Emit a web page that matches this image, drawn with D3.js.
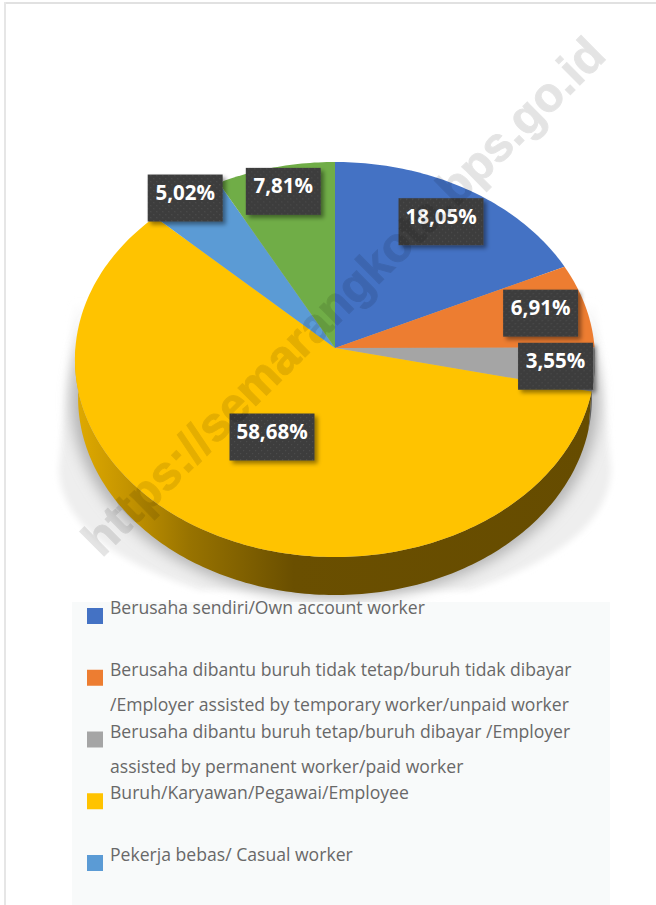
<!DOCTYPE html>
<html>
<head>
<meta charset="utf-8">
<script src="https://cdn.jsdelivr.net/npm/d3@7"></script>
<style>
  html, body { margin: 0; padding: 0; background: #fff; overflow: hidden; }
  svg { display: block; }
</style>
</head>
<body>
<div id="chart"></div>
<script>
const values = [18.05, 6.91, 3.55, 58.68, 5.02, 7.81];
const valueLabels = ["18,05%", "6,91%", "3,55%", "58,68%", "5,02%", "7,81%"];
const colors = ["#4472c4", "#ed7d31", "#a5a5a5", "#ffc300", "#5b9bd5", "#70ad47"];
const legendRows = [
  ["Berusaha sendiri/Own account worker"],
  ["Berusaha dibantu buruh tidak tetap/buruh tidak dibayar", "/Employer assisted by temporary worker/unpaid worker"],
  ["Berusaha dibantu buruh tetap/buruh dibayar /Employer", "assisted by permanent worker/paid worker"],
  ["Buruh/Karyawan/Pegawai/Employee"],
  ["Pekerja bebas/ Casual worker"]
];
// how far out each label sits along its slice's middle angle
const labelRadius = [0.79, 0.82, 0.85, 0.5, 1.0, 0.86];

const width = 656, height = 905;

// tilted disc: apex of the pie is not the middle of the ellipse
const cx = 335, cy = 348, radius = 259.6, tilt = -0.0582, squash = 176.6, depth = 38;

const project = (t, r) => {
  const u = r * Math.sin(t), v = -r * Math.cos(t);
  const w = 1 + tilt * v;
  return [cx + radius * u / w, (squash * v + cy) / w];
};
const lower = ([x, y]) => [cx + (x - cx) * 0.988, y + depth];

const rad = d3.scaleLinear().domain([0, 180]).range([0, Math.PI]);
const sample = (a0, a1) => {
  const n = Math.max(2, Math.ceil((a1 - a0) / rad(1)));
  return d3.range(n + 1).map(i => a0 + (a1 - a0) * i / n);
};

const slices = d3.pie().sort(null).value(d => d)(values);
const line = d3.line();

const svg = d3.select("#chart")
  .append("svg")
    .attr("width", width)
    .attr("height", height);

const defs = svg.append("defs");

defs.append("filter").attr("id", "blurBig")
    .attr("x", "-20%").attr("y", "-20%").attr("width", "140%").attr("height", "140%")
  .append("feGaussianBlur").attr("stdDeviation", 7);

defs.append("filter").attr("id", "blurSmall")
    .attr("x", "-20%").attr("y", "-20%").attr("width", "140%").attr("height", "140%")
  .append("feGaussianBlur").attr("stdDeviation", 3);

const labelShadow = defs.append("filter").attr("id", "labelShadow")
    .attr("x", "-20%").attr("y", "-20%").attr("width", "150%").attr("height", "150%");
labelShadow.append("feDropShadow")
    .attr("dx", 3).attr("dy", 3).attr("stdDeviation", 2)
    .attr("flood-color", "#000").attr("flood-opacity", 0.42);

const wallGrad = defs.append("linearGradient").attr("id", "wallGrad")
    .attr("gradientUnits", "userSpaceOnUse")
    .attr("x1", 75).attr("x2", 595).attr("y1", 0).attr("y2", 0);
[[0, "#e0aa00"], [0.1, "#c49400"], [0.22, "#987300"], [0.42, "#6a4f00"], [1, "#664c00"]]
  .forEach(([o, c]) => wallGrad.append("stop").attr("offset", o).attr("stop-color", c));

const fade = defs.append("linearGradient").attr("id", "sideFade")
    .attr("x1", 0).attr("x2", 0).attr("y1", 0).attr("y2", 1);
[[0, "#eeeeee", 0], [0.2, "#eeeeee", 1], [1, "#eeeeee", 1]]
  .forEach(([o, c, a]) => fade.append("stop").attr("offset", o).attr("stop-color", c).attr("stop-opacity", a));

const dots = defs.append("pattern").attr("id", "dots")
    .attr("patternUnits", "userSpaceOnUse")
    .attr("width", 6).attr("height", 6);
dots.append("rect").attr("width", 6).attr("height", 6).attr("fill", "#3d3d3d");
dots.append("rect").attr("x", 1).attr("y", 1).attr("width", 1.2).attr("height", 1.2).attr("fill", "#4c4c4c");
dots.append("rect").attr("x", 4).attr("y", 4).attr("width", 1.2).attr("height", 1.2).attr("fill", "#4c4c4c");

// page frame
svg.append("rect").attr("x", 4).attr("y", 2).attr("width", width).attr("height", 2).attr("fill", "#e1e1e1");
svg.append("rect").attr("x", 4).attr("y", 2).attr("width", 2).attr("height", height).attr("fill", "#e6e6e6");

// soft shadow under the pie
svg.append("path")
    .attr("d", "M74,300 L59,470 Q62,545 200,590 L470,590 Q608,545 611,470 L596,300 Z")
    .attr("fill", "url(#sideFade)")
    .attr("filter", "url(#blurSmall)");

const rimAll = sample(0, 2 * Math.PI).map(t => {
  const [x, y] = lower(project(t, 1));
  return [cx + (x - cx) * 1.025, y + 4];
});
svg.append("path")
    .attr("d", line(rimAll) + "Z")
    .attr("fill", "#b4b4b4")
    .attr("filter", "url(#blurBig)");

// side wall of the pie, only the front slices show
svg.append("g").selectAll("path")
  .data(slices.filter(d => d.endAngle > Math.PI / 2 && d.startAngle < 1.5 * Math.PI))
  .join("path")
    .attr("d", d => {
      const a0 = Math.max(d.startAngle, Math.PI / 2), a1 = Math.min(d.endAngle, 1.5 * Math.PI);
      const ts = sample(a0, a1);
      return line(ts.map(t => project(t, 1)).concat(ts.slice().reverse().map(t => lower(project(t, 1))))) + "Z";
    })
    .attr("fill", d => d.index === 3 ? "url(#wallGrad)" : "#5f5f5f");

// top face
svg.append("g").selectAll("path")
  .data(slices)
  .join("path")
    .attr("d", d => line([[cx, cy]].concat(sample(d.startAngle, d.endAngle).map(t => project(t, 1)))) + "Z")
    .attr("fill", (d, i) => colors[i]);

// value labels
const labelW = 75, labelH = 47;
const label = svg.append("g").selectAll("g")
  .data(slices)
  .join("g")
    .attr("transform", (d, i) => {
      const [x, y] = project((d.startAngle + d.endAngle) / 2, labelRadius[i]);
      return `translate(${x},${y})`;
    });

label.append("rect")
    .attr("x", (d, i) => -(i === 0 || i === 3 ? 85 : labelW) / 2)
    .attr("y", -labelH / 2)
    .attr("width", (d, i) => i === 0 || i === 3 ? 85 : labelW)
    .attr("height", labelH)
    .attr("fill", "url(#dots)")
    .attr("filter", "url(#labelShadow)");

label.append("text")
    .attr("text-anchor", "middle")
    .attr("y", 0)
    .attr("dy", "0.1em")
    .attr("font-family", "'Open Sans', sans-serif")
    .attr("font-weight", 700)
    .attr("font-size", 20.5)
    .attr("fill", "#fff")
    .text((d, i) => valueLabels[i]);

// legend panel
svg.append("rect")
    .attr("x", 72).attr("y", 602)
    .attr("width", 538).attr("height", height - 602)
    .attr("fill", "#f8fafa");

const legendY = d3.scaleLinear().domain([0, 4]).range([608, 855]);

const legend = svg.append("g").selectAll("g")
  .data(legendRows)
  .join("g")
    .attr("transform", (d, i) => `translate(87,${legendY(i)})`);

legend.append("rect")
    .attr("width", 16).attr("height", 16)
    .attr("fill", (d, i) => colors[i]);

legend.selectAll("text")
  .data(d => d)
  .join("text")
    .attr("x", 23)
    .attr("y", (d, i) => 6 + i * 35)
    .attr("font-family", "'Open Sans', sans-serif")
    .attr("font-size", 17.6)
    .attr("fill", "#686868")
    .text(d => d);

// watermark
svg.append("text")
    .attr("transform", "translate(343,296) rotate(-44.7)")
    .attr("text-anchor", "middle")
    .attr("dy", "0.35em")
    .attr("font-family", "'Liberation Sans', Arial, sans-serif")
    .attr("font-weight", 700)
    .attr("font-size", 48)
    .attr("fill", "#000")
    .attr("stroke", "#000")
    .attr("stroke-width", 1)
    .attr("opacity", 0.1)
    .text("https://semarangkota.bps.go.id");
</script>
</body>
</html>
